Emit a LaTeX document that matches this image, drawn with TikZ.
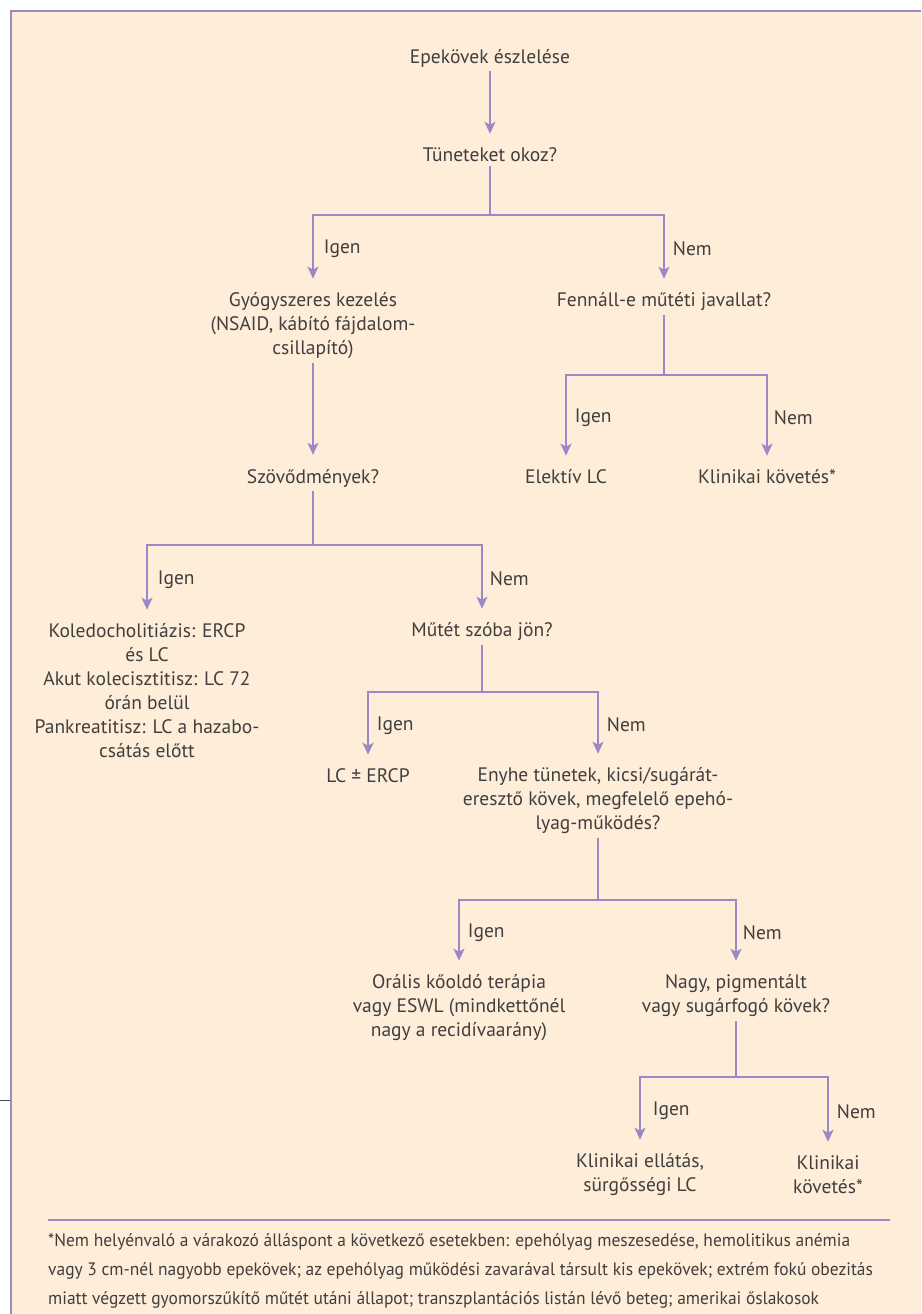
\documentclass[tikz,border=0pt]{standalone}
\usepackage{fontspec}
\setmainfont{PT Sans}
\newfontfamily\condfont[FakeStretch=0.97]{PT Sans}
\usetikzlibrary{arrows.meta,calc}
\definecolor{bgc}{HTML}{FDEDD9}
\definecolor{pur}{HTML}{9C88C6}
\definecolor{txtc}{HTML}{403F3E}
\begin{document}
\begin{tikzpicture}[x=1pt,y=-1pt,
 txt/.style={text=txtc, font=\fontsize{19.5}{24}\selectfont, align=center, inner xsep=0pt, inner ysep=4pt},
 ln/.style={draw=pur, line width=1.8pt},
 arr/.style={ln, shorten >=10pt, -{Stealth[length=12pt,width=11pt,inset=3pt]}},
 lab/.style={text=txtc, font=\fontsize{19.5}{22}\selectfont, anchor=west, inner sep=0pt, yshift=3pt}]
\useasboundingbox (0,0) rectangle (921,1314);
\fill[bgc] (11,12) rectangle (921,1314);
\draw[pur, line width=2pt] (11,1314) -- (11,11.5) -- (921,11.5);
\draw[black!70, line width=1pt] (0,1100) -- (10,1100);

\node[txt] (n1) at (490,58) {Epekövek észlelése};
\node[txt] (n2) at (490,155) {Tüneteket okoz?};
\draw[arr] (n1) -- (n2);

\coordinate (j1) at (490,215);
\draw[ln] (n2) -- (j1);
\node[txt] (n3) at (313,326) {Gyógyszeres kezelés\\(NSAID, kábító fájdalom-\\csillapító)};
\node[txt] (n4) at (664,302) {Fennáll-e műtéti javallat?};
\draw[arr] (j1) -| node[lab,pos=0.75,xshift=10pt]{Igen} (n3);
\draw[arr] (j1) -| node[lab,pos=0.75,xshift=8pt]{Nem} (n4);

\node[txt] (n5) at (313,478) {Szövődmények?};
\draw[arr] (n3) -- (n5);

\coordinate (j2) at (664,375);
\draw[ln] (n4) -- (j2);
\node[txt] (n6) at (566,477) {Elektív LC};
\node[txt] (n7) at (767,477) {Klinikai követés*};
\draw[arr] (j2) -| node[lab,pos=0.75,xshift=8pt]{Igen} (n6);
\draw[arr] (j2) -| node[lab,pos=0.75,xshift=6pt]{Nem} (n7);

\coordinate (j3) at (313,545);
\draw[ln] (n5) -- (j3);
\node[txt] (n8) at (147,691) {Koledocholitiázis: ERCP\\és LC\\Akut kolecisztitisz: LC 72\\órán belül\\Pankreatitisz: LC a hazabo-\\csátás előtt};
\node[txt] (n9) at (482,632) {Műtét szóba jön?};
\draw[arr] (j3) -| node[lab,pos=0.75,xshift=10pt]{Igen} (n8);
\draw[arr] (j3) -| node[lab,pos=0.75,xshift=7pt]{Nem} (n9);

\coordinate (j4) at (482,692);
\draw[ln] (n9) -- (j4);
\node[txt] (n10) at (368,776) {LC ± ERCP};
\node[txt] (n11) at (598,801) {Enyhe tünetek, kicsi/sugárát-\\eresztő kövek, megfelelő epehó-\\lyag-működés?};
\draw[arr] (j4) -| node[lab,pos=0.75,xshift=8pt]{Igen} (n10);
\draw[arr] (j4) -| node[lab,pos=0.75,xshift=8pt]{Nem} (n11);

\coordinate (j5) at (598,900);
\draw[ln] (n11) -- (j5);
\node[txt] (n12) at (459,1008) {Orális kőoldó terápia\\vagy ESWL (mindkettőnél\\nagy a recidívaarány)};
\node[txt] (n13) at (736,996) {Nagy, pigmentált\\vagy sugárfogó kövek?};
\draw[arr] (j5) -| node[lab,pos=0.75,xshift=8pt]{Igen} (n12);
\draw[arr] (j5) -| node[lab,pos=0.75,xshift=6pt]{Nem} (n13);

\coordinate (j6) at (736,1077);
\draw[ln] (n13) -- (j6);
\node[txt] (n14) at (640,1175) {Klinikai ellátás,\\sürgősségi LC};
\node[txt] (n15) at (828,1175) {Klinikai\\követés*};
\draw[arr] (j6) -| node[lab,pos=0.75,xshift=12pt]{Igen} (n14);
\draw[arr] (j6) -| node[lab,pos=0.75,xshift=8pt]{Nem} (n15);

\coordinate (s1) at (48,1220);
\coordinate (s2) at (890,1220);
\draw[ln] (s1) -- (s2);
\node[anchor=north west, inner sep=0pt, text=txtc, align=left, font=\condfont\fontsize{18}{29}\selectfont] (fn) at (48,1233)
{*Nem helyénvaló a várakozó álláspont a következő esetekben: epehólyag meszesedése, hemolitikus anémia\\
vagy 3 cm-nél nagyobb epekövek; az epehólyag működési zavarával társult kis epekövek; extrém fokú obezitás\\
miatt végzett gyomorszűkítő műtét utáni állapot; transzplantációs listán lévő beteg; amerikai őslakosok};
\end{tikzpicture}
\end{document}
